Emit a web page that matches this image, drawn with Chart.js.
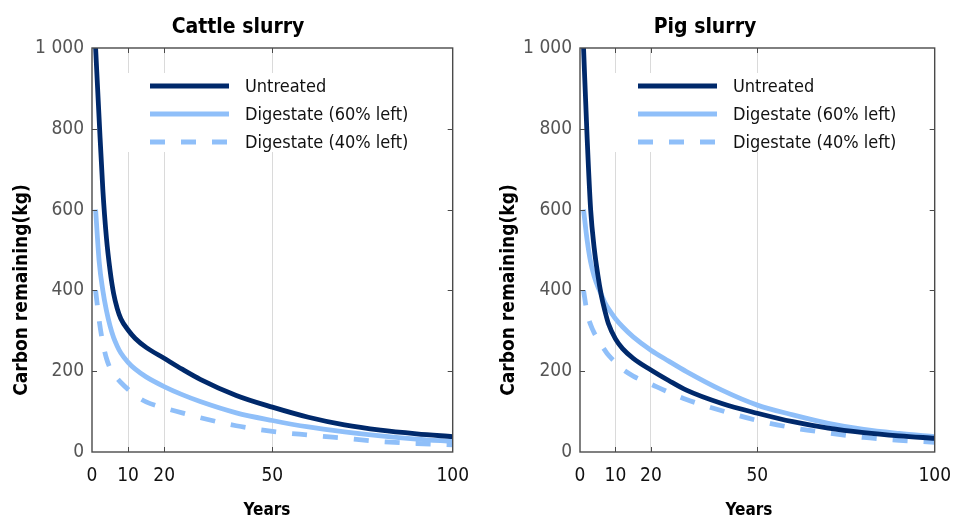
<!DOCTYPE html>
<html>
<head>
<meta charset="utf-8">
<script src="https://cdn.jsdelivr.net/npm/chart.js@4.4.1/dist/chart.umd.min.js"></script>
<style>
  body { margin: 0; background: #fff; }
  #wrap { position: relative; width: 964px; height: 522px; }
  canvas { position: absolute; top: 0; }
</style>
</head>
<body>
<div id="wrap">
  <canvas id="cattle" width="482" height="522" style="left:0"></canvas>
  <canvas id="pig" width="482" height="522" style="left:482px"></canvas>
</div>
<script>
// years after application, carbon left in kg
const years = [1, 2, 3, 4, 5, 6, 7, 8, 10, 12, 15, 20, 25, 30, 40, 50, 60, 70, 80, 90, 100];

const cattleUntreated = [1000, 820, 650, 530, 450, 392, 355, 330, 302, 281, 259, 232, 205, 180, 140, 111, 86, 67, 54, 45, 38];
const cattleDig60 = [600, 470, 400, 350, 312, 283, 262, 245, 222, 205, 186, 162, 142, 125, 97, 78, 62, 50, 40, 32, 26];
const cattleDig40 = [400, 325, 270, 232, 208, 194, 182, 172, 155, 140, 124, 109, 97, 85, 65, 51, 42, 34, 26, 21, 18];

const pigUntreated = [1000, 780, 600, 505, 440, 388, 350, 318, 280, 256, 232, 203, 177, 153, 120, 96, 75, 59, 48, 40, 34];
const pigDig60 = [600, 525, 470, 435, 410, 390, 370, 355, 330, 310, 285, 252, 225, 199, 153, 116, 92, 71, 56, 46, 38];
const pigDig40 = [400, 345, 315, 295, 280, 265, 252, 240, 222, 205, 188, 168, 148, 130, 102, 78, 60, 47, 36, 29, 24];

const xTicks = [0, 10, 20, 50, 100];
const xGridLines = [10, 20, 50];
const yTicks = [0, 200, 400, 600, 800, 1000];
const seriesLabels = ['Untreated', 'Digestate (60% left)', 'Digestate (40% left)'];

const FONT = "'DejaVu Sans Condensed', 'DejaVu Sans', sans-serif";
const navy = '#00296b';
const sky = '#8fbff9';
const frameColor = '#4a4a4a';
const dash = [15, 16];

// frame, inward ticks, legend and panel texts
const panelDecor = {
  id: 'panelDecor',
  beforeDatasetsDraw(chart) {
    const a = chart.chartArea;
    const ctx = chart.ctx;
    ctx.save();
    ctx.fillStyle = '#fff';
    ctx.fillRect(a.left + 28, 73, 300, 79);
    ctx.restore();
  },
  afterDatasetsDraw(chart) {
    const a = chart.chartArea;
    const ctx = chart.ctx;
    const xs = chart.scales.x, ys = chart.scales.y;
    ctx.save();
    ctx.strokeStyle = frameColor;
    ctx.lineWidth = 1.4;
    ctx.strokeRect(a.left, a.top, a.right - a.left, a.bottom - a.top);
    ctx.beginPath();
    xGridLines.forEach(v => {
      const px = Math.round(xs.getPixelForValue(v)) + 0.5;
      ctx.moveTo(px, a.bottom); ctx.lineTo(px, a.bottom - 5);
      ctx.moveTo(px, a.top); ctx.lineTo(px, a.top + 5);
    });
    yTicks.slice(1, -1).forEach(v => {
      const py = Math.round(ys.getPixelForValue(v)) + 0.5;
      ctx.moveTo(a.left, py); ctx.lineTo(a.left + 5, py);
      ctx.moveTo(a.right, py); ctx.lineTo(a.right - 5, py);
    });
    ctx.lineWidth = 1;
    ctx.stroke();
    ctx.restore();
  },
  afterDraw(chart, args, o) {
    const ctx = chart.ctx;
    ctx.save();
    // legend
    chart.data.datasets.forEach((ds, i) => {
      const y = o.legendY + i * 28;
      ctx.beginPath();
      ctx.strokeStyle = ds.borderColor;
      ctx.lineWidth = ds.borderWidth;
      ctx.setLineDash(ds.borderDash || []);
      ctx.moveTo(o.legendX, y);
      ctx.lineTo(o.legendX + 79, y);
      ctx.stroke();
      ctx.setLineDash([]);
      ctx.fillStyle = '#111';
      ctx.font = '18px ' + FONT;
      ctx.textAlign = 'left';
      ctx.textBaseline = 'middle';
      ctx.fillText(ds.label, o.legendX + 95, y + 1);
    });
    // panel title
    ctx.fillStyle = '#000';
    ctx.textAlign = 'center';
    ctx.textBaseline = 'alphabetic';
    ctx.font = 'bold 21px ' + FONT;
    ctx.fillText(o.title, o.titleX, 33);
    // axis titles
    ctx.font = 'bold 17px ' + FONT;
    ctx.fillText('Years', o.xLabelX, 515);
    ctx.translate(o.yLabelX, 290);
    ctx.rotate(-Math.PI / 2);
    ctx.textBaseline = 'middle';
    ctx.font = 'bold 19px ' + FONT;
    ctx.fillText('Carbon remaining(kg)', 0, 0);
    ctx.restore();
  }
};

function makePanel(canvasId, title, untreated, dig60, dig40, geo) {
  const datasets = [untreated, dig60, dig40].map((vals, i) => ({
    label: seriesLabels[i],
    data: years.map((yr, j) => ({ x: yr, y: vals[j] })),
    borderColor: i === 0 ? navy : sky,
    borderWidth: 4.8,
    borderDash: i === 2 ? dash : [],
    borderCapStyle: 'butt',
    pointRadius: 0,
    cubicInterpolationMode: 'monotone',
  }));

  return new Chart(document.getElementById(canvasId), {
    type: 'line',
    data: { datasets },
    options: {
      responsive: false,
      animation: false,
      devicePixelRatio: 1,
      layout: { padding: { top: 48, right: geo.padRight, left: 0, bottom: 0 } },
      plugins: {
        legend: { display: false },
        tooltip: { enabled: false },
        panelDecor: {
          title,
          titleX: geo.titleX,
          xLabelX: geo.xLabelX,
          yLabelX: geo.yLabelX,
          legendX: geo.legendX,
          legendY: 86,
        },
      },
      scales: {
        x: {
          type: 'linear',
          min: 0,
          max: 100,
          afterBuildTicks: s => { s.ticks = xTicks.map(v => ({ value: v })); },
          afterFit: s => { s.height = 70; },
          border: { display: false },
          grid: {
            drawTicks: false,
            color: c => xGridLines.includes(c.tick && c.tick.value) ? '#dadada' : 'rgba(0,0,0,0)',
            lineWidth: 1,
          },
          ticks: {
            padding: 13,
            color: '#111',
            font: { family: FONT, size: 19 },
            maxRotation: 0,
          },
        },
        y: {
          min: 0,
          max: 1000,
          afterBuildTicks: s => { s.ticks = yTicks.map(v => ({ value: v })); },
          afterFit: s => { s.width = geo.yWidth; },
          border: { display: false },
          grid: { display: false, drawTicks: false },
          ticks: {
            padding: 8,
            color: '#555',
            font: { family: FONT, size: 19 },
            callback: v => v === 1000 ? '1 000' : String(v),
          },
        },
      },
    },
    plugins: [panelDecor],
  });
}

makePanel('cattle', 'Cattle slurry', cattleUntreated, cattleDig60, cattleDig40,
  { yWidth: 92, padRight: 21, titleX: 238, xLabelX: 267, yLabelX: 22, legendX: 150 });
makePanel('pig', 'Pig slurry', pigUntreated, pigDig60, pigDig40,
  { yWidth: 98, padRight: 16, titleX: 223, xLabelX: 267, yLabelX: 27, legendX: 156 });
</script>
</body>
</html>
